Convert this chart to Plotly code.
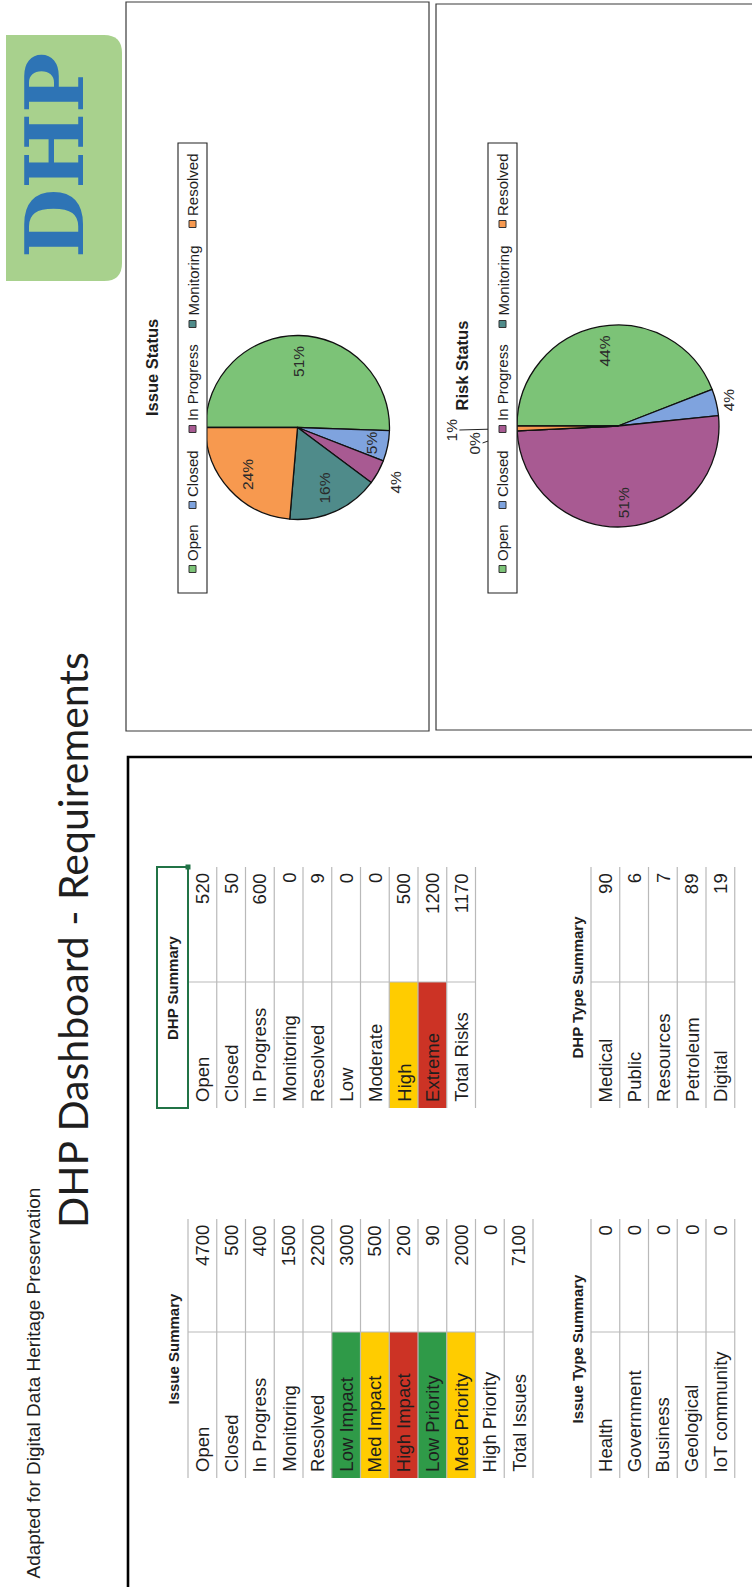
import numpy as np
import plotly.graph_objects as go

W, H = 752, 1587

# ---- data -------------------------------------------------------------
status_labels = ["Open", "Closed", "In Progress", "Monitoring", "Resolved"]
status_colors = ["#7cc377", "#7fa3de", "#a85a92", "#4f8b8a", "#f7994f"]

issue_summary_labels = ["Open", "Closed", "In Progress", "Monitoring", "Resolved",
                        "Low Impact", "Med Impact", "High Impact", "Low Priority",
                        "Med Priority", "High Priority", "Total Issues"]
issue_summary_values = [4700, 500, 400, 1500, 2200, 3000, 500, 200, 90, 2000, 0, 7100]

dhp_summary_labels = ["Open", "Closed", "In Progress", "Monitoring", "Resolved",
                      "Low", "Moderate", "High", "Extreme", "Total Risks"]
dhp_summary_values = [520, 50, 600, 0, 9, 0, 0, 500, 1200, 1170]

issue_type_labels = ["Health", "Government", "Business", "Geological", "IoT community"]
issue_type_values = [0, 0, 0, 0, 0]

dhp_type_labels = ["Medical", "Public", "Resources", "Petroleum", "Digital"]
dhp_type_values = [90, 6, 7, 89, 19]

# pie series: the status rows of each summary table
issue_status_values = issue_summary_values[:5]
risk_status_values = dhp_summary_values[:5]

# ---- styles -----------------------------------------------------------
SANS = "Liberation Sans, Arial, sans-serif"
TXT = "#1e1e1e"
GRID = "#b9b9b9"
GREEN, YELLOW, RED = "#2f9a48", "#ffcc00", "#cc3325"
cell_fill = {"Low Impact": GREEN, "Med Impact": YELLOW, "High Impact": RED,
             "Low Priority": GREEN, "Med Priority": YELLOW,
             "High": YELLOW, "Extreme": RED}

shapes, annots = [], []


def line(x0, y0, x1, y1, color, width):
    shapes.append(dict(type="line", xref="x", yref="y", x0=x0, y0=y0, x1=x1, y1=y1,
                       line=dict(color=color, width=width), layer="above"))


def rect(x0, y0, x1, y1, fill=None, color=None, width=0, layer="below"):
    shapes.append(dict(type="rect", xref="x", yref="y", x0=x0, y0=y0, x1=x1, y1=y1,
                       fillcolor=fill or "rgba(0,0,0,0)",
                       line=dict(color=color or "rgba(0,0,0,0)", width=width),
                       layer=layer))


def vtext(text, x, y, size, yanchor="middle", color=TXT, family=SANS, bold=False):
    # page text runs bottom-to-top
    annots.append(dict(text=f"<b>{text}</b>" if bold else text, x=x, y=y,
                       xref="x", yref="y", showarrow=False, textangle=-90,
                       xanchor="center", yanchor=yanchor,
                       font=dict(size=size, color=color, family=family)))


# ---- header: logo and titles -----------------------------------------
shapes.append(dict(type="path", xref="x", yref="y", layer="below",
                   path="M6,35 L104,35 Q122,35 122,53 L122,263 Q122,281 104,281 L6,281 Z",
                   fillcolor="#a8d18d", line=dict(width=0)))
vtext("DHP", 55, 156, 80, color="#2e74b5", family="DejaVu Serif, serif", bold=True)

vtext("Adapted for Digital Data Heritage Preservation", 33, 1581, 19, yanchor="bottom")
vtext("DHP Dashboard - Requirements", 72, 1230, 41, yanchor="bottom",
      family="Lato, Carlito, sans-serif")

# ---- chart panels -----------------------------------------------------
rect(126, 2, 429, 731, color="#3a3a3a", width=1.2)
rect(436, 4, 760, 730, color="#3a3a3a", width=1.2)
# tables panel
rect(128, 757, 770, 1600, color="#000000", width=2.6)

legend_marker_y = [569, 505, 429, 324, 224]


def draw_legend(cx):
    rect(cx - 14.5, 143, cx + 14.5, 593, fill="white", color="#222", width=1.1,
         layer="above")
    for lab, col, my in zip(status_labels, status_colors, legend_marker_y):
        rect(cx - 3.5, my - 3.5, cx + 3.5, my + 3.5, fill=col, color="#333",
             width=1, layer="above")
        vtext(lab, cx, my - 6, 15, yanchor="bottom")


def draw_pie(values, cx, cy, r, title, title_x, label_rf, label_nudge):
    values = np.asarray(values, dtype=float)
    total = values.sum()
    traces.append(go.Pie(
        values=values, labels=status_labels, sort=False, direction="clockwise",
        rotation=270, textinfo="none", hoverinfo="label+value+percent",
        marker=dict(colors=status_colors, line=dict(color="#111", width=1.3)),
        domain=dict(x=[(cx - r) / W, (cx + r) / W],
                    y=[1 - (cy + r) / H, 1 - (cy - r) / H]),
        showlegend=False))
    start = 270 + np.concatenate([[0], np.cumsum(values)[:-1]]) / total * 360
    mid = start + values / total * 180
    for v, a, rf, dn in zip(values, mid, label_rf, label_nudge):
        th = np.deg2rad(a + dn)
        lx, ly = cx + rf * r * np.sin(th), cy - rf * r * np.cos(th)
        vtext(f"{round(v / total * 100):d}%", lx, ly, 15.5, color="#2a2a2a")
        if rf > 1.3:  # leader line back to the slice edge
            ea = np.deg2rad(a)
            line(lx + 8, ly, cx + r * np.sin(ea), cy - r * np.cos(ea), "#222", 1)
    vtext(title, title_x, (cy - 60), 16.5, bold=True)


traces = []
draw_pie(issue_status_values, 297.5, 427.5, 92, "Issue Status", 151.5,
         [0.72, 0.83, 1.22, 0.72, 0.75], [0, 0, 0, 0, 0])
draw_pie(risk_status_values, 618, 426, 101, "Risk Status", 461.5,
         [0.75, 1.12, 0.76, 1.43, 1.65], [0, 0, 0, -4, 0])
draw_legend(192.5)
draw_legend(502.5)

# ---- tables -----------------------------------------------------------
ROW = 28.75


def draw_table(labels, values, x0, y_top, y_split, y_bot, header, hx):
    n = len(labels)
    for i, lab in enumerate(labels):
        if lab in cell_fill:
            rect(x0 + i * ROW, y_split, x0 + (i + 1) * ROW, y_bot, fill=cell_fill[lab])
    for k in range(n + 1):
        line(x0 + k * ROW, y_top, x0 + k * ROW, y_bot, GRID, 1.2)
    line(x0, y_split, x0 + n * ROW, y_split, GRID, 1.2)
    for i, (lab, val) in enumerate(zip(labels, values)):
        xc = x0 + (i + 0.5) * ROW
        vtext(lab, xc, y_bot - 4, 18.5, yanchor="bottom")
        vtext(f"{val}", xc, y_top + 4, 18.5, yanchor="top")
    vtext(header, hx, (y_top + y_bot) / 2, 15, bold=True)


draw_table(issue_summary_labels, issue_summary_values, 188, 1219, 1332, 1478,
           "Issue Summary", 173)
draw_table(dhp_summary_labels, dhp_summary_values, 188, 867, 982, 1108,
           "DHP Summary", 172.5)
draw_table(issue_type_labels, issue_type_values, 591, 1219, 1332, 1478,
           "Issue Type Summary", 577)
draw_table(dhp_type_labels, dhp_type_values, 591, 867, 982, 1108,
           "DHP Type Summary", 577)

# selected header cell outline
rect(157, 867, 188, 1108, color="#217346", width=2, layer="above")
rect(185.5, 864.5, 190.5, 869.5, fill="#217346", layer="above")

fig = go.Figure(traces)
fig.update_layout(
    width=W, height=H, margin=dict(l=0, r=0, t=0, b=0),
    paper_bgcolor="white", plot_bgcolor="white",
    xaxis=dict(range=[0, W], visible=False, fixedrange=True),
    yaxis=dict(range=[H, 0], visible=False, fixedrange=True),
    shapes=shapes, annotations=annots, showlegend=False,
)
fig.write_html("out.html")
